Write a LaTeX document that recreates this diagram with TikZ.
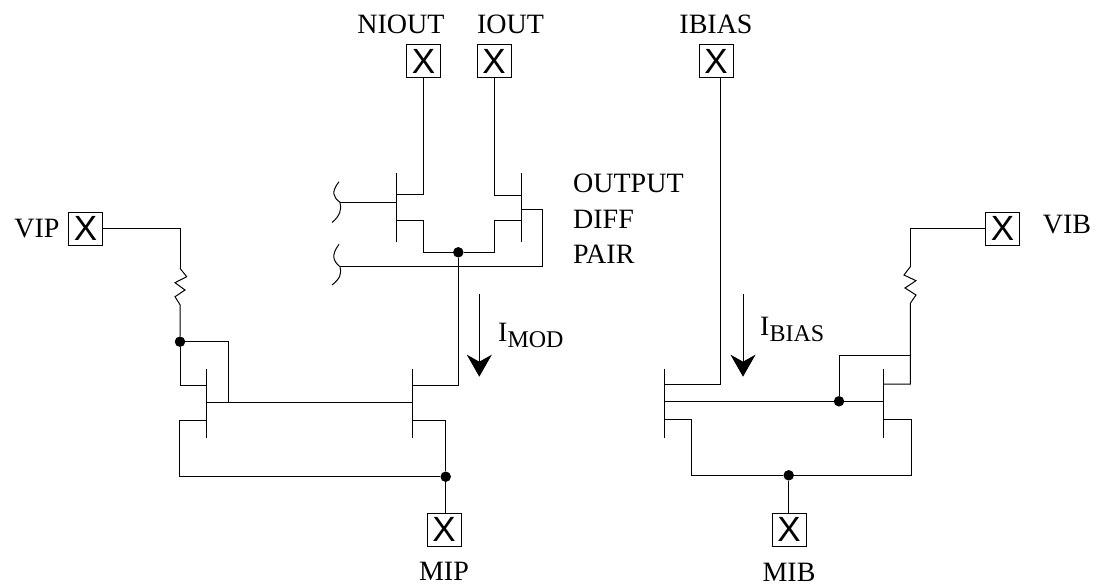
\documentclass[tikz,border=0pt]{standalone}
\usepackage{fontspec}
\setmainfont{Liberation Serif}
\setsansfont{Liberation Sans}
\usepackage{tikz}
\usetikzlibrary{arrows.meta}
\newcommand{\sublabel}[2]{#1\raisebox{-6pt}{\fontsize{24}{24}\selectfont #2}}
\tikzset{
	wire/.style={line width=1pt},
	bar/.style={line width=1.1pt},
	pad/.style={draw,line width=1pt,minimum width=34pt,minimum height=33pt,inner sep=0pt,font=\sffamily\fontsize{35}{35}\selectfont},
	pin/.style={inner sep=0pt,font=\fontsize{28}{28}\selectfont},
	dot/.style={circle,fill=black,inner sep=0pt,minimum size=10.5pt},
	current/.style={line width=1pt,-{Stealth[length=22pt,width=25pt,inset=7pt]}}
}
\begin{document}
\begin{tikzpicture}[x=1pt,y=-1pt]
			\useasboundingbox (0,0) rectangle (1096,586);
			\node[pad] (niout) at (423.5,61.5) {X};
			\node[pad] (iout) at (494,61.5) {X};
			\node[pad] (ibias) at (716,61.5) {X};
			\node[pad] (vip) at (85.5,228.5) {X};
			\node[pad] (vib) at (1002.5,228.5) {X};
			\node[pad] (mip) at (444,529.5) {X};
			\node[pad] (mib) at (789,529.5) {X};
			\node[pin] at (401,24) (nioutlabel) {NIOUT};
			\node[pin] at (510.5,24) (ioutlabel) {IOUT};
			\node[pin] at (716,24) (ibiaslabel) {IBIAS};
			\node[pin] at (37,229) (viplabel) {VIP};
			\node[pin] at (1067,225) (viblabel) {VIB};
			\node[pin] at (444,571) (miplabel) {MIP};
			\node[pin] at (789,572.5) (miblabel) {MIB};
			\node[pin,anchor=west] at (573,183) (output) {OUTPUT};
			\node[pin,anchor=west] at (573,219) (diff) {DIFF};
			\node[pin,anchor=west] at (573,254) (pair) {PAIR};
			\node[pin,anchor=base west] at (498,341) (imod) {\sublabel{I}{MOD}};
			\node[pin,anchor=base west] at (760,335) (ibiastext) {\sublabel{I}{BIAS}};
			\node[dot] (tail) at (458.3,252.3) {};
			\node[dot] (vipjoin) at (180,341.7) {};
			\node[dot] (mipjoin) at (445.7,476.7) {};
			\node[dot] (vibjoin) at (839,401.3) {};
			\node[dot] (mibjoin) at (788.7,475.3) {};
			\coordinate (qa) at (396.5,202.3);
			\coordinate (qb) at (521.7,209);
			\coordinate (qc) at (206.7,402);
			\coordinate (qd) at (412.5,402);
			\coordinate (qe) at (664.7,401.3);
			\coordinate (qf) at (883.7,401.3);
			\coordinate (gatea) at (340,202.3);
			\coordinate (gateb) at (340,266.7);
			\coordinate (rvip) at (180,268.3);
			\coordinate (rvib) at (910.3,266.7);
			\coordinate (aone) at (479.3,294.3);
			\coordinate (atwo) at (743,294.3);
			\foreach \q in {qa,qb}
				\draw[bar] (\q |- 0,173) -- (\q |- 0,241.7);
			\foreach \q in {qc,qd,qe,qf}
				\draw[bar] (\q |- 0,369.3) -- (\q |- 0,438.3);
			\draw[wire] (niout.south) -- (423.5,194) -- (qa |- 0,194);
			\draw[wire] (iout.south) -- (494,195.7) -- (qb |- 0,195.7);
			\draw[wire] (qa |- 0,220) -- (423.5,220) |- (tail);
			\draw[wire] (qb |- 0,220.3) -- (494,220.3) |- (tail);
			\draw[wire] (gatea) -- (qa);
			\draw[wire] (qb) -- (542,209) |- (gateb);
			\draw[wire] (tail) |- (qd |- 0,385);
			\draw[wire] (qc) -- (qd);
			\draw[wire] (vipjoin) -| (228,402);
			\draw[wire] (vip.east) -| (rvip);
			\draw[wire] (rvip) -- ++(6.7,8.4) -- ++(-11.7,6) -- ++(10,7.3) -- ++(-10,6.7) -- ++(5,8) -- (vipjoin);
			\draw[wire] (vipjoin) |- (qc |- 0,385);
			\draw[wire] (qc |- 0,420) -- (179,420) |- (mipjoin);
			\draw[wire] (qd |- 0,420) -| (mipjoin);
			\draw[wire] (mipjoin) -- (mipjoin |- mip.north);
			\draw[wire] (ibias.south -| 720,0) -- (720,384) -- (qe |- 0,384);
			\draw[wire] (qe) -- (qf);
			\draw[wire] (vibjoin) |- (910.3,355.7);
			\draw[wire] (vib.west) -| (rvib);
			\draw[wire] (rvib) -- ++(-6.3,8.3) -- ++(12,5.7) -- ++(-11,7.3) -- ++(11,7) -- ++(-5.7,8.3) -- (910.3,384) -- (qf |- 0,384);
			\draw[wire] (qe |- 0,419) -- (691,419) |- (mibjoin);
			\draw[wire] (qf |- 0,419) -- (911.3,419) |- (mibjoin);
			\draw[wire] (mibjoin) -- (mibjoin |- mib.north);
			\draw[wire] (339,181.7) .. controls (331,192) and (333,197) .. (340,202.3) .. controls (342,209) and (340,216) .. (332,222.5);
			\draw[wire] (339,244.3) .. controls (331,255) and (333,261) .. (340,266.7) .. controls (342,273) and (340,279) .. (332,285);
			\draw[current] (aone) -- (aone |- 0,376.7);
			\draw[current] (atwo) -- (atwo |- 0,376.7);
			\end{tikzpicture}
\end{document}
